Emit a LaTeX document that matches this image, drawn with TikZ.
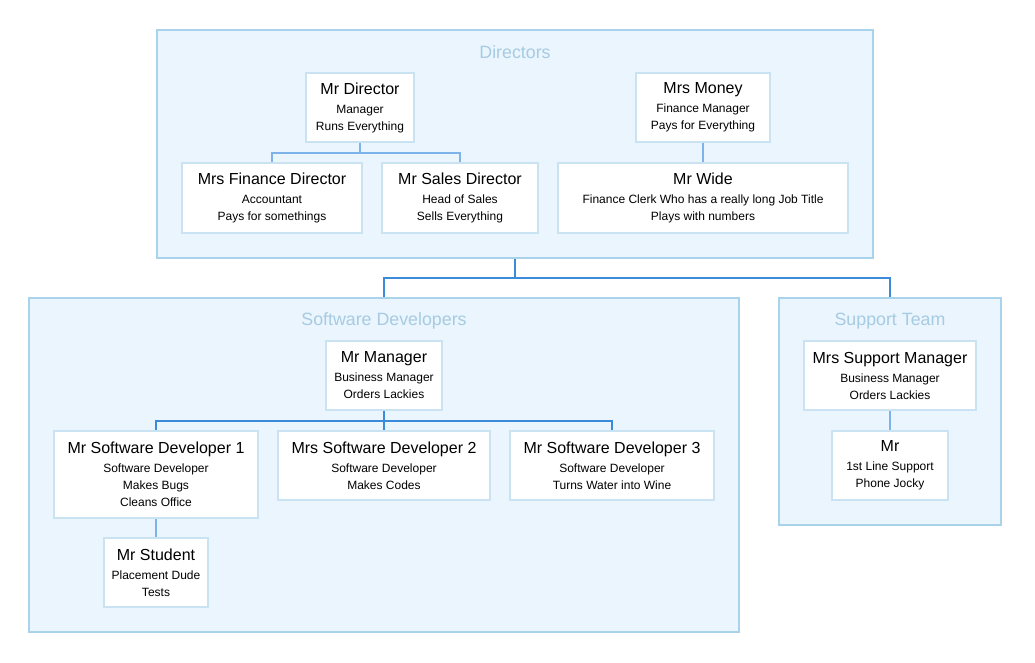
\documentclass[tikz,border=0pt]{standalone}
\usepackage{fontspec}
\setmainfont{Liberation Sans}
\definecolor{groupfill}{HTML}{EAF5FD}
\definecolor{groupline}{HTML}{A9D3EA}
\definecolor{grouptext}{HTML}{A6CBE2}
\definecolor{boxline}{HTML}{C9E3F2}
\definecolor{linkblue}{HTML}{3C8BDB}
\definecolor{linklight}{HTML}{7DB3E8}
\newcommand{\namefont}{\fontsize{16}{17}\selectfont}
\newcommand{\infofont}{\fontsize{12}{17}\selectfont}
\newcommand{\staff}[2]{{\namefont #1}\\[2pt]#2}
\tikzset{
    group/.style={draw=groupline, fill=groupfill, line width=2pt, inner sep=0pt},
    grouptitle/.style={text=grouptext, font=\fontsize{17.8}{19}\selectfont},
    person/.style={draw=boxline, fill=white, line width=1.5pt, inner sep=0pt,
        align=center, font=\infofont},
    link/.style={draw=linklight, line width=1.5pt},
    grouplink/.style={draw=linkblue, line width=1.5pt}
}
\begin{document}
\begin{tikzpicture}[x=1pt, y=-1pt]
    \useasboundingbox (0,0) rectangle (1035,662);

    % directors
    \node[group, minimum width=716pt, minimum height=228pt] (directors) at (515,144) {};
    \node[grouptitle] (dirtitle) at (515,52) {Directors};
    \node[person, minimum width=108pt, minimum height=69pt] (mrdirector) at (360,107.5)
        {\staff{Mr Director}{Manager\\Runs Everything}};
    \node[person, minimum width=134pt, minimum height=69pt] (mrsmoney) at (703,107.5)
        {\staff{Mrs Money}{Finance Manager\\Pays for Everything}};
    \node[person, minimum width=180pt, minimum height=70pt] (findirector) at (272,198)
        {\staff{Mrs Finance Director}{Accountant\\Pays for somethings}};
    \node[person, minimum width=156pt, minimum height=70pt] (salesdirector) at (460,198)
        {\staff{Mr Sales Director}{Head of Sales\\Sells Everything}};
    \node[person, minimum width=290pt, minimum height=70pt] (mrwide) at (703,198)
        {\staff{Mr Wide}{Finance Clerk Who has a really long Job Title\\Plays with numbers}};
    \draw[link] (mrdirector.south) -- ++(0,10) -| (findirector.north);
    \draw[link] (mrdirector.south) -- ++(0,10) -| (salesdirector.north);
    \draw[link] (mrsmoney.south) -- (mrwide.north);

    % software developers
    \node[group, minimum width=710pt, minimum height=334pt] (softdev) at (384,465) {};
    \node[grouptitle] (softtitle) at (384,321) {Software Developers};
    \node[person, minimum width=116pt, minimum height=69pt] (mrmanager) at (384,375.5)
        {\staff{Mr Manager}{Business Manager\\Orders Lackies}};
    \node[person, minimum width=204pt, minimum height=87pt] (devone) at (156,474.5)
        {\staff{Mr Software Developer 1}{Software Developer\\Makes Bugs\\Cleans Office}};
    \node[person, minimum width=212pt, minimum height=69pt] (devtwo) at (384,465.5)
        {\staff{Mrs Software Developer 2}{Software Developer\\Makes Codes}};
    \node[person, minimum width=204pt, minimum height=69pt] (devthree) at (612,465.5)
        {\staff{Mr Software Developer 3}{Software Developer\\Turns Water into Wine}};
    \node[person, minimum width=104pt, minimum height=69pt] (mrstudent) at (156,572.5)
        {\staff{Mr Student}{Placement Dude\\Tests}};
    \draw[grouplink] (mrmanager.south) -- ++(0,10) -| (devone.north);
    \draw[grouplink] (mrmanager.south) -- (devtwo.north);
    \draw[grouplink] (mrmanager.south) -- ++(0,10) -| (devthree.north);
    \draw[link] (devone.south) -- (mrstudent.north);

    % support team
    \node[group, minimum width=222pt, minimum height=227pt] (support) at (890,411.5) {};
    \node[grouptitle] (suptitle) at (890,321) {Support Team};
    \node[person, minimum width=172pt, minimum height=69pt] (supmanager) at (890,375.5)
        {\staff{Mrs Support Manager}{Business Manager\\Orders Lackies}};
    \node[person, minimum width=116pt, minimum height=69pt] (mrsupport) at (890,465.5)
        {\staff{Mr}{1st Line Support\\Phone Jocky}};
    \draw[link] (supmanager.south) -- (mrsupport.north);

    % between groups
    \draw[grouplink] (directors.south) -- ++(0,19) -| (softdev.north);
    \draw[grouplink] (directors.south) -- ++(0,19) -| (support.north);
\end{tikzpicture}
\end{document}
